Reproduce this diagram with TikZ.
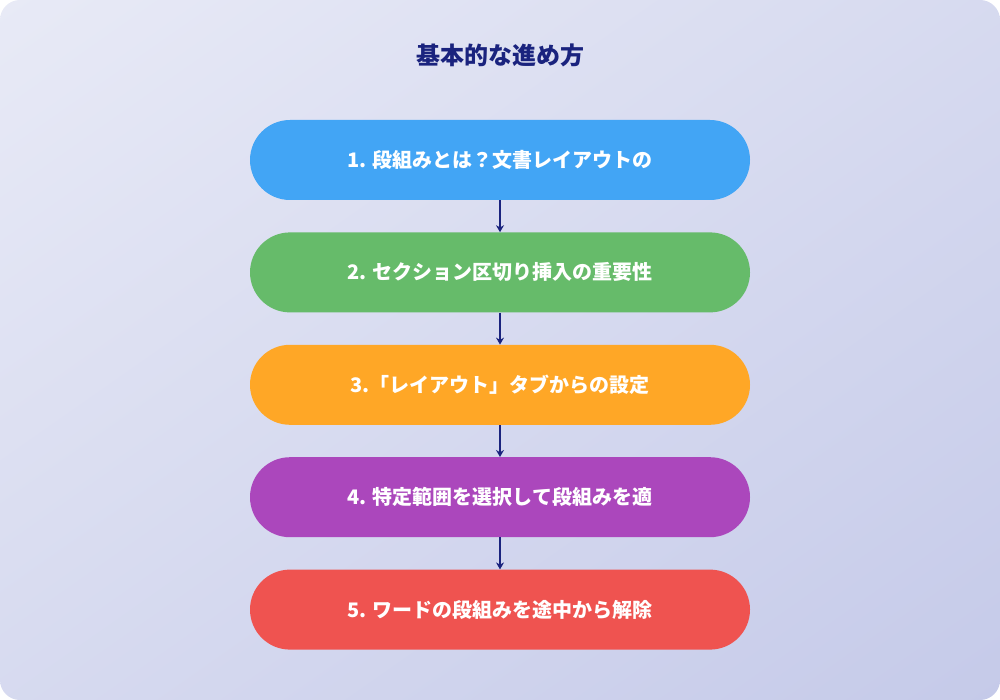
\documentclass[tikz,border=0pt]{standalone}
\usepackage{fontspec}
\setmainfont{Noto Sans CJK JP}
\usetikzlibrary{positioning,arrows.meta,shadings}
\definecolor{navy}{HTML}{1A237E}
\definecolor{bgA}{HTML}{E8EAF6}
\definecolor{bgB}{HTML}{C5CAE9}
\definecolor{stepA}{HTML}{42A5F5}
\definecolor{stepB}{HTML}{66BB6A}
\definecolor{stepC}{HTML}{FFA726}
\definecolor{stepD}{HTML}{AB47BC}
\definecolor{stepE}{HTML}{EF5350}
\tikzset{
  stepbox/.style={rounded corners=40pt,minimum width=500pt,minimum height=80pt,
    text=white,font=\fontsize{20}{24}\selectfont\bfseries,inner sep=0pt},
  link/.style={navy,line width=2.5pt,-{Stealth[length=7pt,width=8pt]}}
}
\begin{document}
\begin{tikzpicture}[x=1pt,y=-1pt]
\useasboundingbox (0,0) rectangle (1000,700);
\shade[rounded corners=20pt,upper left=bgA,lower right=bgB,upper right=bgA!50!bgB,lower left=bgA!50!bgB] (0,0) rectangle (1000,700);

% title
\node[navy,font=\fontsize{24}{28}\selectfont\bfseries] (title) at (500,55) {基本的な進め方};

% steps
\node[stepbox,fill=stepA] (s1) at (500,160) {1. 段組みとは？文書レイアウトの};
\node[stepbox,fill=stepB,below=32pt of s1] (s2) {2. セクション区切り挿入の重要性};
\node[stepbox,fill=stepC,below=32pt of s2] (s3) {3.「レイアウト」タブからの設定};
\node[stepbox,fill=stepD,below=32pt of s3] (s4) {4. 特定範囲を選択して段組みを適};
\node[stepbox,fill=stepE,below=32pt of s4] (s5) {5. ワードの段組みを途中から解除};

\foreach \a/\b in {s1/s2,s2/s3,s3/s4,s4/s5}
  \draw[link] (\a.south) -- (\b.north);

\end{tikzpicture}
\end{document}
